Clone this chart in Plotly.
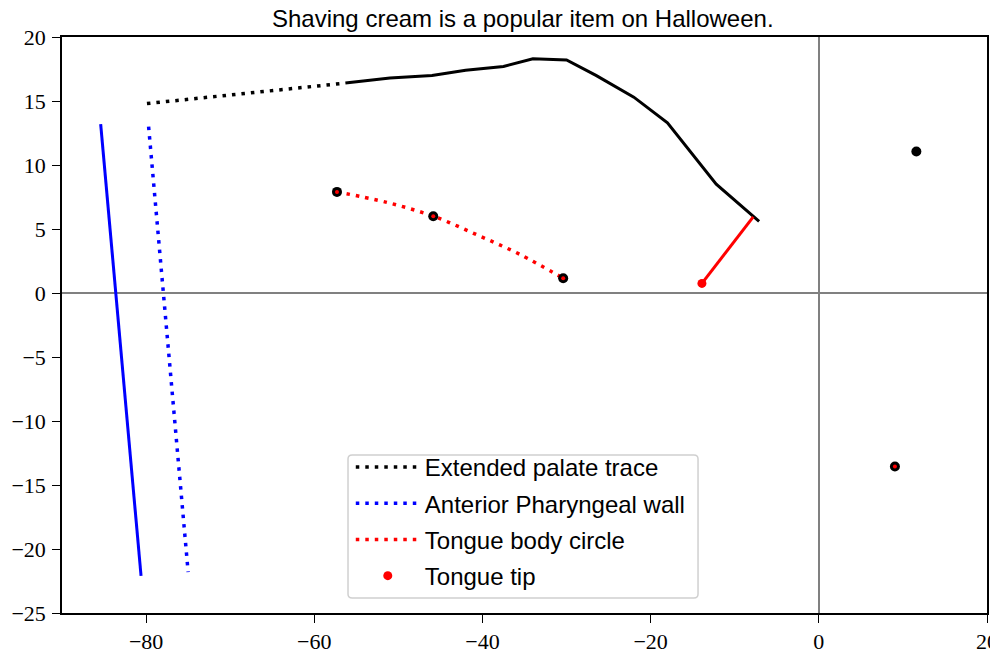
import plotly.graph_objects as go

# Extended palate trace (dotted)
ext_x = [-79.9, -56.3]
ext_y = [14.8, 16.4]
# Palate trace (solid)
pal_x = [-56.3, -51, -46, -42, -37.5, -34, -30, -26.5, -22, -18, -12.2, -7.8, -7.1]
pal_y = [16.4, 16.8, 17.0, 17.4, 17.7, 18.3, 18.2, 17.0, 15.3, 13.3, 8.5, 6.0, 5.6]
# Pharyngeal walls
wall_x = [-85.4, -80.6]
wall_y = [13.2, -22.1]
apw_x = [-79.7, -75.0]
apw_y = [13.0, -21.8]
# Tongue body circle
tbc_x = [-57.3, -51.5, -45.85, -40.5, -35.5, -30.4]
tbc_y = [7.9, 7.1, 6.0, 4.5, 3.0, 1.15]
tbc_pts_x = [-57.3, -45.85, -30.4]
tbc_pts_y = [7.9, 6.0, 1.15]
# Tongue tip
tip_x = [-13.9]
tip_y = [0.75]
tipline_x = [-13.9, -7.8]
tipline_y = [0.75, 5.95]
# Other points
pt_black_x = [11.6]
pt_black_y = [11.05]
pt_mixed_x = [9.05]
pt_mixed_y = [-13.55]

DOT = "3.5px,6px"

fig = go.Figure()
fig.add_trace(go.Scatter(x=pal_x, y=pal_y, mode="lines", line=dict(color="black", width=3), showlegend=False))
fig.add_trace(go.Scatter(x=ext_x, y=ext_y, mode="lines", name="Extended palate trace", legendgroup="a",
                         line=dict(color="black", width=3.5, dash=DOT)))
fig.add_trace(go.Scatter(x=wall_x, y=wall_y, mode="lines", line=dict(color="blue", width=3), showlegend=False))
fig.add_trace(go.Scatter(x=apw_x, y=apw_y, mode="lines", name="Anterior Pharyngeal wall", legendgroup="b",
                         line=dict(color="blue", width=3.5, dash=DOT)))
fig.add_trace(go.Scatter(x=tbc_x, y=tbc_y, mode="lines", name="Tongue body circle", legendgroup="c",
                         line=dict(color="red", width=3.5, dash=DOT, shape="spline")))
fig.add_trace(go.Scatter(x=tipline_x, y=tipline_y, mode="lines", line=dict(color="red", width=3), showlegend=False))
fig.add_trace(go.Scatter(x=tbc_pts_x + pt_mixed_x, y=tbc_pts_y + pt_mixed_y, mode="markers",
                         marker=dict(color="black", size=10), showlegend=False))
fig.add_trace(go.Scatter(x=tbc_pts_x + pt_mixed_x, y=tbc_pts_y + pt_mixed_y, mode="markers",
                         marker=dict(color="red", size=4), showlegend=False))
fig.add_trace(go.Scatter(x=pt_black_x, y=pt_black_y, mode="markers",
                         marker=dict(color="black", size=10), showlegend=False))
fig.add_trace(go.Scatter(x=tip_x, y=tip_y, mode="markers", name="Tongue tip", legendgroup="d",
                         marker=dict(color="red", size=9)))

axis_common = dict(showgrid=False, showline=True, linecolor="black", linewidth=1.5, mirror=True,
                   ticks="outside", ticklen=8, tickwidth=1.3, tickcolor="black",
                   zeroline=True, zerolinecolor="#808080", zerolinewidth=2, automargin=False,
                   tickfont=dict(family="Liberation Serif", size=22, color="black"))
fig.update_xaxes(range=[-90, 20], tickvals=[-80, -60, -40, -20, 0, 20], **axis_common)
fig.update_yaxes(range=[-25, 20], tickvals=[-25, -20, -15, -10, -5, 0, 5, 10, 15, 20],
                 ticklabelstandoff=2, **axis_common)

# legend frame (rounded box) drawn as a shape in paper coordinates
bx0, bx1, by0, by1 = 0.3092, 0.6876, 0.026, 0.2743
rx, ry = 0.0045, 0.007
frame_path = (f"M{bx0+rx},{by0} L{bx1-rx},{by0} Q{bx1},{by0} {bx1},{by0+ry} "
              f"L{bx1},{by1-ry} Q{bx1},{by1} {bx1-rx},{by1} L{bx0+rx},{by1} "
              f"Q{bx0},{by1} {bx0},{by1-ry} L{bx0},{by0+ry} Q{bx0},{by0} {bx0+rx},{by0} Z")
fig.add_shape(type="path", path=frame_path, xref="paper", yref="paper", layer="above",
              fillcolor="white", line=dict(color="#d0d0d0", width=1.5))

# page body has an 8px margin; figure is sized/offset so the plot area matches the reference
fig.update_layout(
    width=990, height=645,
    margin=dict(l=54, r=11, t=29, b=40),
    plot_bgcolor="white", paper_bgcolor="white",
    title=dict(text="Shaving cream is a popular item on Halloween.", x=0.520, xanchor="center",
               y=1.0, yanchor="top", pad=dict(t=2),
               font=dict(family="Liberation Sans", size=24, color="black")),
    legend=dict(x=0.3122, y=0.2917, xanchor="left", yanchor="top",
                borderwidth=0, bgcolor="rgba(0,0,0,0)",
                font=dict(family="Liberation Sans", size=24, color="black"),
                itemwidth=64, tracegroupgap=2),
)
fig.write_html("out.html")
